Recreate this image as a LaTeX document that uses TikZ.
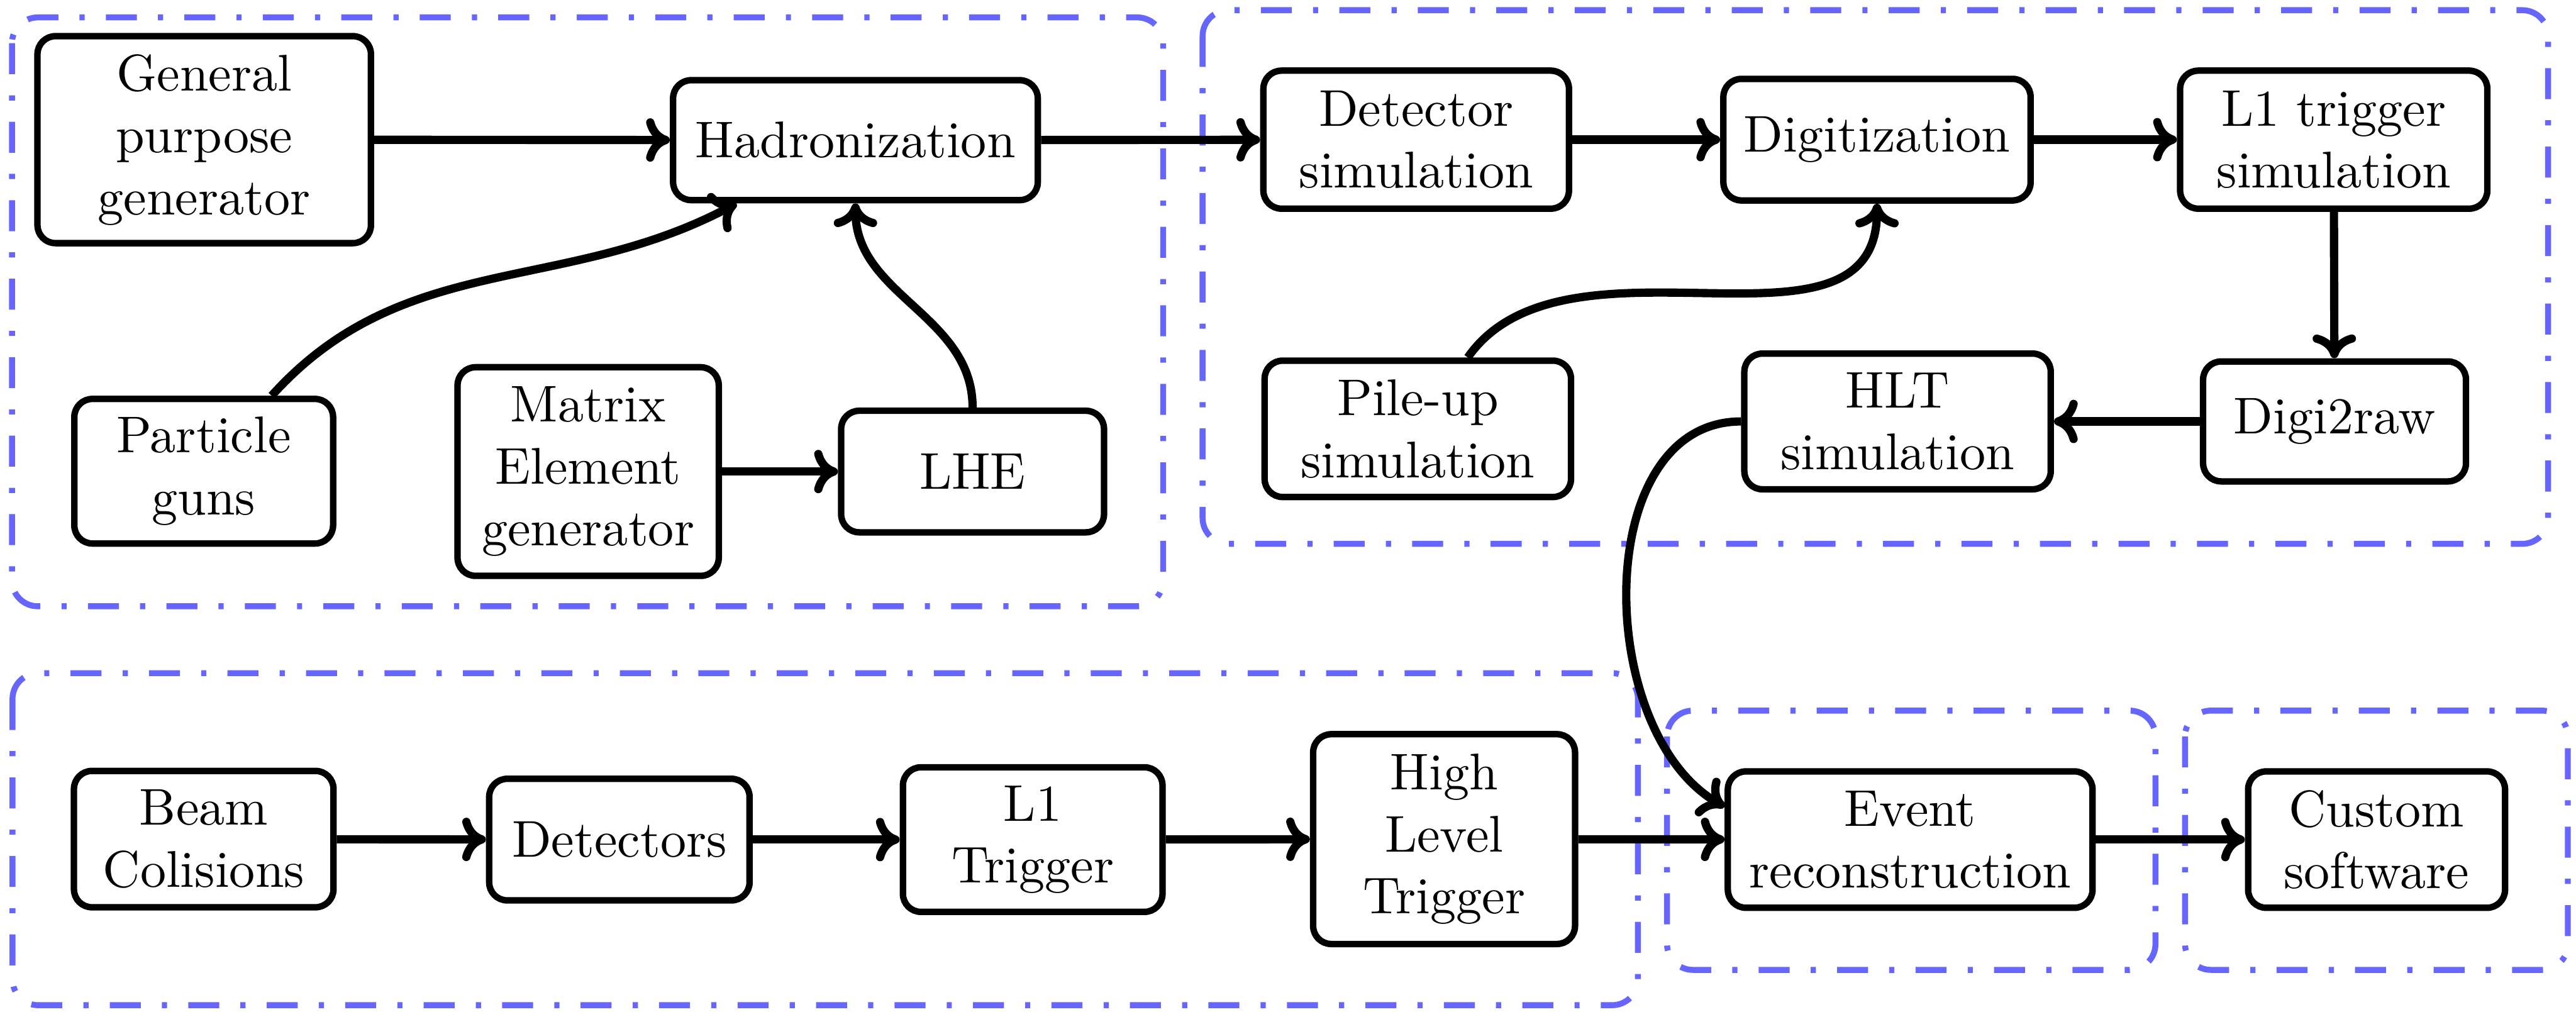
\documentclass[tikz,border=0pt]{standalone}
\usetikzlibrary{arrows.meta}
\definecolor{grpblue}{RGB}{102,102,255}
\newcommand\pxu{0.3182pt}
\tikzset{
  blk/.style={draw, line width=1.25pt, rounded corners=3.5pt, align=center,
              inner sep=2pt, fill=white},
  arr/.style={line width=1.6pt,
              -{Computer Modern Rightarrow[length=4.6pt,width=8.4pt]}},
  grp/.style={draw=grpblue, line width=1.15pt, rounded corners=5pt,
              dash pattern=on 6pt off 4.1pt on 1pt off 4.1pt},
}
\begin{document}
\begin{tikzpicture}[x=\pxu, y=-\pxu]
\useasboundingbox (0,0) rectangle (1568,615.8);

% stage frames
\draw[grp] (7.3,10.6) rectangle (708,369);
\draw[grp] (732,6.2) rectangle (1551,331);
\draw[grp] (7.6,409.7) rectangle (997,611.8);
\draw[grp] (1014.7,432.5) rectangle (1312,590.3);
\draw[grp] (1330,432.5) rectangle (1563,590.3);

% generation
\node[blk, minimum width=203*\pxu, minimum height=126*\pxu] (gen) at (124.3,85) {General\\purpose\\generator};
\node[blk, minimum width=222*\pxu, minimum height=73*\pxu] (hadr) at (520.7,85.3) {Hadronization};
\node[blk, minimum width=157.5*\pxu, minimum height=88*\pxu] (guns) at (124,286.8) {Particle\\guns};
\node[blk, minimum width=159*\pxu, minimum height=127*\pxu] (matrix) at (358,287) {Matrix\\Element\\generator};
\node[blk, minimum width=160*\pxu, minimum height=74*\pxu] (lhe) at (592,287) {LHE};

% simulation
\node[blk, minimum width=186*\pxu, minimum height=84*\pxu] (detsim) at (862,85) {Detector\\simulation};
\node[blk, minimum width=187*\pxu, minimum height=74*\pxu] (digit) at (1142.5,85) {Digitization};
\node[blk, minimum width=187*\pxu, minimum height=84*\pxu] (l1sim) at (1420.5,85) {L1 trigger\\simulation};
\node[blk, minimum width=186.5*\pxu, minimum height=83*\pxu] (pileup) at (863,261) {Pile-up\\simulation};
\node[blk, minimum width=186.5*\pxu, minimum height=82.6*\pxu] (hltsim) at (1155,256.5) {HLT\\simulation};
\node[blk, minimum width=160*\pxu, minimum height=73*\pxu] (digiraw) at (1421,256.5) {Digi2raw};

% data taking and reconstruction
\node[blk, minimum width=158*\pxu, minimum height=83*\pxu] (beam) at (124,510.7) {Beam\\Colisions};
\node[blk, minimum width=158.5*\pxu, minimum height=74*\pxu] (dets) at (377,511) {Detectors};
\node[blk, minimum width=158*\pxu, minimum height=88*\pxu] (l1trig) at (628.6,511) {L1\\Trigger};
\node[blk, minimum width=159.4*\pxu, minimum height=127.7*\pxu] (hlt) at (879,510.7) {High\\Level\\Trigger};
\node[blk, minimum width=222*\pxu, minimum height=83*\pxu] (event) at (1162.7,511) {Event\\reconstruction};
\node[blk, minimum width=156.4*\pxu, minimum height=83*\pxu] (custom) at (1446.6,511) {Custom\\software};

% connectors
\draw[arr] (gen) -- (hadr);
\draw[arr] (guns) to[out=48, in=208] (hadr);
\draw[arr] (matrix) -- (lhe);
\draw[arr] (lhe) to[out=90, in=-90] (hadr);
\draw[arr] (hadr) -- (detsim);
\draw[arr] (detsim) -- (digit);
\draw[arr] (digit) -- (l1sim);
\draw[arr] (l1sim) -- (digiraw);
\draw[arr] (digiraw) -- (hltsim);
\draw[arr] (pileup) to[out=55, in=-90] (digit);
\draw[arr] (hltsim.west) to[out=180, in=150] (event.170);
\draw[arr] (beam) -- (dets);
\draw[arr] (dets) -- (l1trig);
\draw[arr] (l1trig) -- (hlt);
\draw[arr] (hlt) -- (event);
\draw[arr] (event) -- (custom);
\end{tikzpicture}
\end{document}
